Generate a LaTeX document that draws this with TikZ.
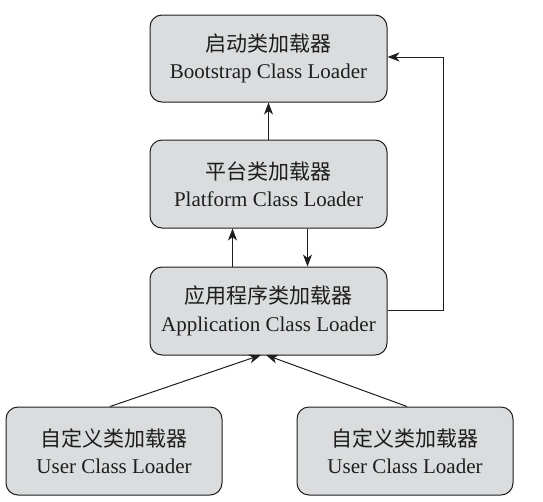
\documentclass[tikz,border=0pt]{standalone}
\usepackage{fontspec}
\setmainfont{Liberation Serif}
\newfontfamily\cjk{Noto Sans CJK SC}
\usetikzlibrary{arrows.meta}
\definecolor{boxfill}{HTML}{DADCDD}
\definecolor{ink}{HTML}{1E1E1E}
\tikzset{
  loader/.style={draw=ink, line width=1pt, fill=boxfill, rounded corners=12pt,
    minimum width=#1, align=center, inner sep=0pt, text=ink, font=\fontsize{21}{27.5}\selectfont},
  loader/.default=237pt,
  conn/.style={draw=ink, line width=1pt, -{Stealth[length=12pt,width=9pt,inset=3.5pt]}}
}
\begin{document}
\begin{tikzpicture}[x=1pt,y=-1pt]
\useasboundingbox (0,0) rectangle (543,501);
\node[loader, minimum height=87pt] (boot) at (268.5,58.5) {{\cjk 启动类加载器}\\Bootstrap Class Loader};
\node[loader, minimum height=88pt] (plat) at (268.5,184) {{\cjk 平台类加载器}\\Platform Class Loader};
\node[loader, minimum height=88pt] (app) at (268.5,311) {{\cjk 应用程序类加载器}\\Application Class Loader};
\node[loader=216pt, minimum height=88pt] (u1) at (114,451) {{\cjk 自定义类加载器}\\User Class Loader};
\node[loader=216pt, minimum height=88pt] (u2) at (405,451) {{\cjk 自定义类加载器}\\User Class Loader};
\coordinate (appr) at (app.east |- 0,310);
\coordinate (c1) at (443,310);
\coordinate (c2) at (443,57);
\coordinate (bootr) at (boot.east |- 0,57);
\draw[conn] (appr) -- (c1) -- (c2) -- (bootr);
\draw[conn] (plat.north) -- (boot.south);
\draw[conn] (plat.south west |- app.north) ++(83,0) coordinate (a1) -- (a1 |- plat.south);
\draw[conn] (plat.south west) ++(158,0) coordinate (a2) -- (a2 |- app.north);
\coordinate (t1) at (261,355);
\coordinate (t2) at (266,355);
\draw[conn] (u1.north) ++(-4,0) -- (t1);
\draw[conn] (u2.north) ++(2,0) -- (t2);
\end{tikzpicture}
\end{document}
